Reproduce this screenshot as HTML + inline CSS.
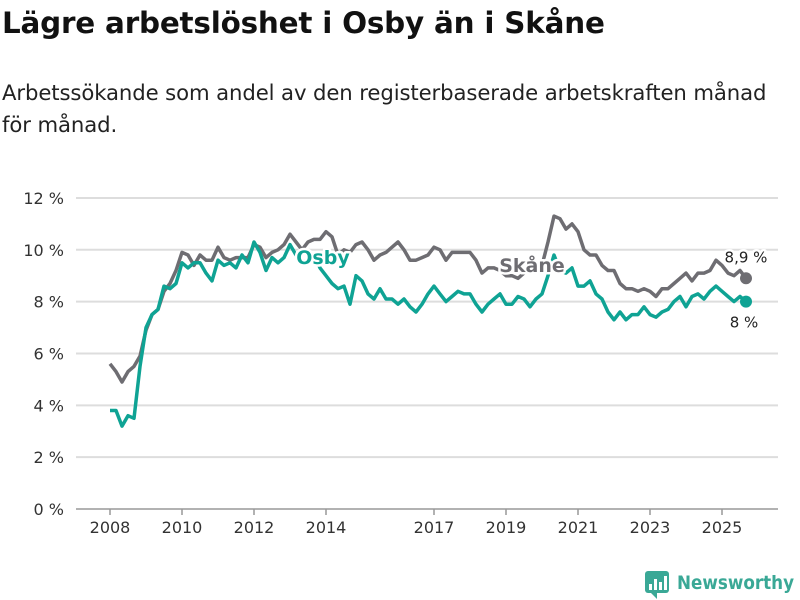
<!DOCTYPE html>
<html><head><meta charset="utf-8"><style>
body{margin:0;width:800px;height:600px;background:#fff;font-family:"DejaVu Sans","Liberation Sans",sans-serif;overflow:hidden;position:relative}
#title{position:absolute;left:2px;top:6px;font-size:29.4px;font-weight:bold;color:#111;margin:0;letter-spacing:-0.2px}
#sub{position:absolute;left:2px;top:77px;font-size:21.2px;line-height:32px;color:#222;width:790px;letter-spacing:-0.1px}
svg{position:absolute;left:0;top:0}
</style></head><body>
<h1 id="title">Lägre arbetslöshet i Osby än i Skåne</h1>
<div id="sub">Arbetssökande som andel av den registerbaserade arbetskraften månad<br>för månad.</div>
<svg id="chart" width="800" height="600"></svg>
<script>
const yTicks=[0,2,4,6,8,10,12];
const xTickYears=[2008,2010,2012,2014,2017,2019,2021,2023,2025];
const skane=[5.6,5.3,4.9,5.3,5.5,5.9,6.9,7.5,7.7,8.4,8.7,9.2,9.9,9.8,9.4,9.8,9.6,9.6,10.1,9.7,9.6,9.7,9.7,9.7,10.2,10.1,9.7,9.9,10.0,10.2,10.6,10.3,10.0,10.3,10.4,10.4,10.7,10.5,9.8,10.0,9.9,10.2,10.3,10.0,9.6,9.8,9.9,10.1,10.3,10.0,9.6,9.6,9.7,9.8,10.1,10.0,9.6,9.9,9.9,9.9,9.9,9.6,9.1,9.3,9.3,9.2,9.0,9.0,8.9,9.1,9.2,9.2,9.4,10.3,11.3,11.2,10.8,11.0,10.7,10.0,9.8,9.8,9.4,9.2,9.2,8.7,8.5,8.5,8.4,8.5,8.4,8.2,8.5,8.5,8.7,8.9,9.1,8.8,9.1,9.1,9.2,9.6,9.4,9.1,9.0,9.2,8.9];
const osby=[3.8,3.8,3.2,3.6,3.5,5.5,7.0,7.5,7.7,8.6,8.5,8.7,9.5,9.3,9.5,9.5,9.1,8.8,9.6,9.4,9.5,9.3,9.8,9.5,10.3,9.9,9.2,9.7,9.5,9.7,10.2,9.8,9.6,9.5,9.8,9.3,9.0,8.7,8.5,8.6,7.9,9.0,8.8,8.3,8.1,8.5,8.1,8.1,7.9,8.1,7.8,7.6,7.9,8.3,8.6,8.3,8.0,8.2,8.4,8.3,8.3,7.9,7.6,7.9,8.1,8.3,7.9,7.9,8.2,8.1,7.8,8.1,8.3,9.0,9.8,9.2,9.1,9.3,8.6,8.6,8.8,8.3,8.1,7.6,7.3,7.6,7.3,7.5,7.5,7.8,7.5,7.4,7.6,7.7,8.0,8.2,7.8,8.2,8.3,8.1,8.4,8.6,8.4,8.2,8.0,8.2,8.0];
const startYear=2008, stepMonths=2;
const NS='http://www.w3.org/2000/svg';
const svg=document.getElementById('chart');
function X(yearFrac){return 110+(yearFrac-2008)*36;}
function Y(v){return 509-v*25.92;}
function idxYear(i){return startYear+i*stepMonths/12;}
function mk(tag,attrs,parent){const e=document.createElementNS(NS,tag);for(const k in attrs)e.setAttribute(k,attrs[k]);(parent||svg).appendChild(e);return e;}
yTicks.forEach(t=>{
  const l=mk('line',{x1:76,x2:778,y1:Y(t),y2:Y(t),stroke:t===0?'#999':'#ddd','stroke-width':t===0?1.5:2});
  
  
  const tx=mk('text',{x:64,y:Y(t)+6,'text-anchor':'end','font-size':16,fill:'#333'});
  tx.textContent=t+' %';
  
  
});
xTickYears.forEach(yr=>{
  const l=mk('line',{x1:X(yr),x2:X(yr),y1:509,y2:515,stroke:'#999','stroke-width':1.5});
  
  
  const tx=mk('text',{x:X(yr),y:533,'text-anchor':'middle','font-size':16,fill:'#333'});
  tx.textContent=yr;
  
  
});
function line(arr,color,name){
  const d=arr.map((v,i)=>(i?'L':'M')+X(idxYear(i)).toFixed(1)+','+Y(v).toFixed(1)).join('');
  const p=mk('path',{d:d,fill:'none',stroke:color,'stroke-width':3.5,'stroke-linejoin':'round'});
  
  
  const n=arr.length-1;
  const c=mk('circle',{cx:X(idxYear(n)),cy:Y(arr[n]),r:6,fill:color});
  
  
  return [X(idxYear(n)),Y(arr[n])];
}
const sEnd=line(skane,'#6e6d72','skane-line');
const oEnd=line(osby,'#0fa394','osby-line');
function label(x,y,txt,color,name,size,bold){
  const t=mk('text',{x:x,y:y,'text-anchor':'middle','font-size':size,fill:color,'font-weight':bold?'bold':'normal',stroke:'#fff','stroke-width':5,'paint-order':'stroke','stroke-linejoin':'round'});
  t.textContent=txt;
  
  
}
label(323,264,'Osby','#0fa394','osby-series-label',19,true);
label(532,272,'Skåne','#6e6d72','skane-series-label',19,true);
label(sEnd[0],sEnd[1]-16,'8,9 %','#222','skane-end-value',15,false);
label(oEnd[0]-2,oEnd[1]+26,'8 %','#222','osby-end-value',15,false);
// logo
const g=mk('g',{});


mk('rect',{x:645,y:571,width:24,height:22,rx:3,fill:'#3aa896'},g);
mk('path',{d:'M651,593 L657,599 L657,593 Z',fill:'#3aa896'},g);
[[649,584,3,6],[654,579,3,11],[659,582,3,8],[664,576,3,14]].forEach(b=>mk('rect',{x:b[0],y:b[1],width:b[2],height:b[3],fill:'#fff'},g));
const lt=mk('text',{x:677,y:589,'font-size':19,'font-weight':'bold',fill:'#3aa896',textLength:117,lengthAdjust:'spacingAndGlyphs'},g);
lt.textContent='Newsworthy';
</script>
</body></html>
